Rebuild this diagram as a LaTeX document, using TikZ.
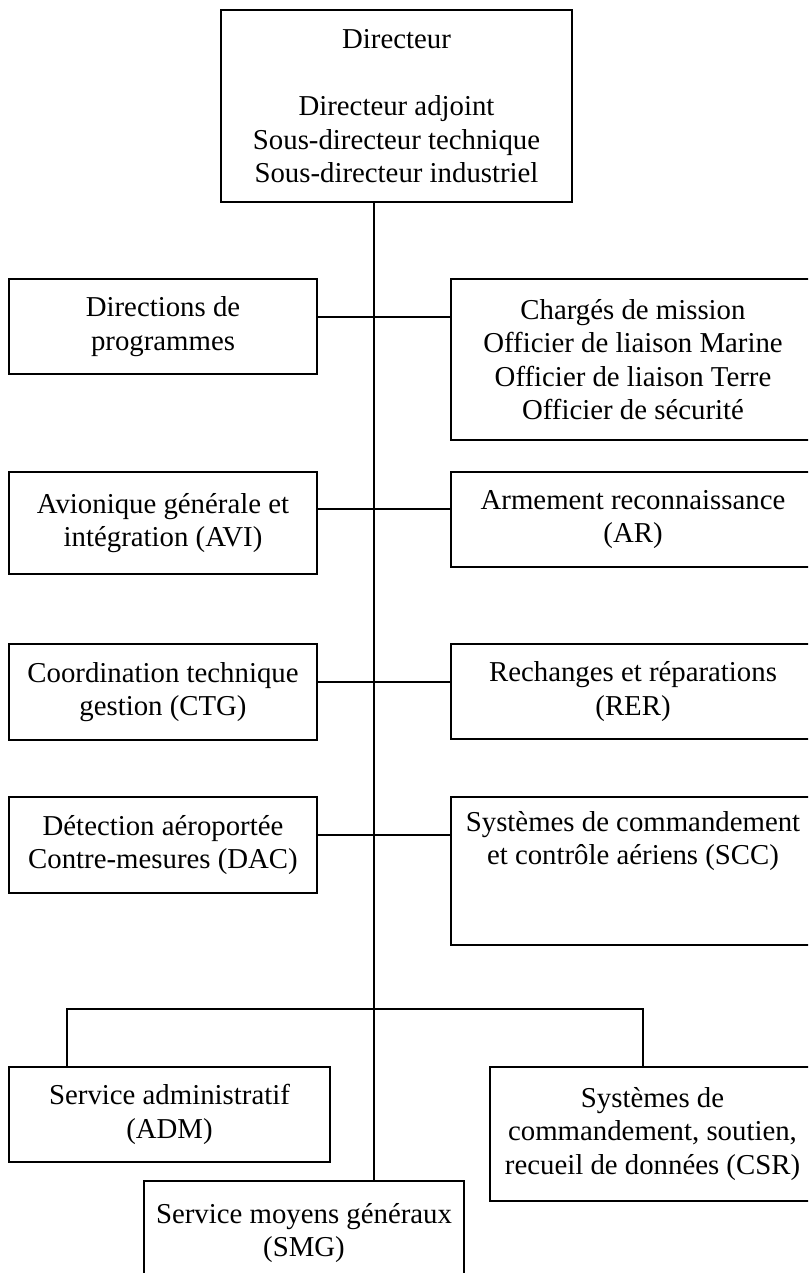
\documentclass[tikz,border=0pt]{standalone}
\usepackage{fontspec}
\setmainfont{Liberation Serif}
\usepackage{tikz}

\begin{document}
\begin{tikzpicture}[x=1pt, y=-1pt,
            every node/.style = {shape=rectangle, draw, line width=1.6pt,
                                align=center, inner sep=0pt,
                                font=\fontsize{28.8}{33.5}\selectfont},
            leftbox/.style = {minimum width=308},
            rightbox/.style = {minimum width=364},
            link/.style = {line width=1.5pt}]
    \useasboundingbox (0,0) rectangle (808,1273);
    \clip (0,0) rectangle (808,1273);

    \node[minimum width=351, minimum height=192] (dir) at (396.5,106)
        {Directeur\\[34pt]Directeur adjoint\\Sous-directeur technique\\Sous-directeur industriel};

    \node[leftbox, minimum height=95] (dirprog) at (163,326.5) {Directions de\\programmes};
    \node[rightbox, minimum height=161] (charges) at (633,359.5)
        {Chargés de mission\\Officier de liaison Marine\\Officier de liaison Terre\\Officier de sécurité};
    \node[leftbox, minimum height=102] (avi) at (163,523) {Avionique générale et\\intégration (AVI)};
    \node[rightbox, minimum height=95] (ar) at (633,519.5) {Armement reconnaissance\\(AR)};
    \node[leftbox, minimum height=96] (ctg) at (163,692) {Coordination technique\\gestion (CTG)};
    \node[rightbox, minimum height=95] (rer) at (633,691.5) {Rechanges et réparations\\(RER)};
    \node[leftbox, minimum height=96] (dac) at (163,845) {Détection aéroportée\\Contre-mesures (DAC)};
    \node[rightbox, minimum height=148] (scc) at (633,871)
        {Systèmes de commandement\\et contrôle aériens (SCC)\\[33pt]~};

    \node[minimum width=321, minimum height=95] (adm) at (169.5,1114.5) {Service administratif\\(ADM)};
    \node[minimum width=325, minimum height=134] (csr) at (652.5,1134)
        {Systèmes de\\commandement, soutien,\\recueil de données (CSR)};
    \node[minimum width=320, minimum height=104] (smg) at (304,1233) {Service moyens généraux\\(SMG)};

    \coordinate (row1) at (374,317);
    \coordinate (row2) at (374,509);
    \coordinate (row3) at (374,682);
    \coordinate (row4) at (374,835);
    \coordinate (busl) at (67,1009);
    \coordinate (busr) at (643,1009);

    \draw[link] (dir.south -| row1) -- (smg.north -| row1);
    \foreach \l/\r/\k in {dirprog/charges/1, avi/ar/2, ctg/rer/3, dac/scc/4}
        \draw[link] (\l.east |- row\k) -- (\r.west |- row\k);
    \draw[link] (adm.north -| busl) -- (busl) -- (busr) -- (csr.north -| busr);
\end{tikzpicture}
\end{document}
